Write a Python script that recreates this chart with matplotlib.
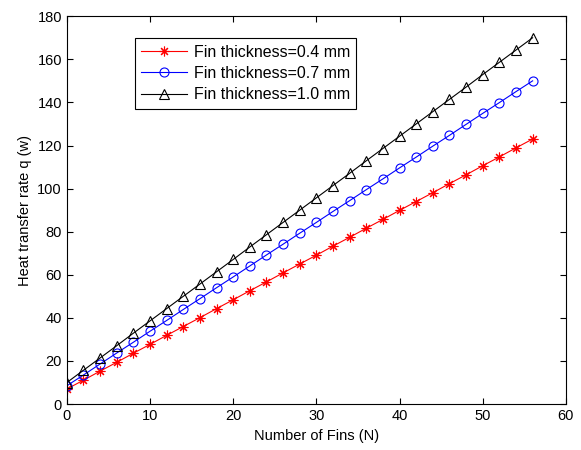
import matplotlib.pyplot as plt

plt.rcParams["font.family"] = ["Liberation Sans", "DejaVu Sans"]
plt.rcParams["font.size"] = 10.5

fins = list(range(0, 57, 2))

q_04 = [7.0, 11.1, 15.3, 19.4, 23.6, 27.7, 31.9, 36.0, 40.1, 44.3, 48.4, 52.6,
        56.7, 60.9, 65.0, 69.1, 73.3, 77.4, 81.6, 85.7, 89.9, 94.0, 98.1, 102.3,
        106.4, 110.6, 114.7, 118.9, 123.0]
q_07 = [8.5, 13.5, 18.6, 23.7, 28.7, 33.8, 38.8, 43.9, 48.9, 54.0, 59.0, 64.1,
        69.2, 74.2, 79.3, 84.3, 89.4, 94.4, 99.5, 104.5, 109.6, 114.6, 119.7,
        124.7, 129.8, 134.9, 139.9, 145.0, 150.0]
q_10 = [10.0, 15.7, 21.4, 27.1, 32.9, 38.6, 44.3, 50.0, 55.7, 61.4, 67.1, 72.9,
        78.6, 84.3, 90.0, 95.7, 101.4, 107.1, 112.9, 118.6, 124.3, 130.0, 135.7,
        141.4, 147.1, 152.9, 158.6, 164.3, 170.0]

fig = plt.figure(figsize=(5.81, 4.5), dpi=100)
ax = fig.add_axes([0.115, 0.102, 0.859, 0.862])

ax.plot(fins, q_04, color="red", lw=0.8, marker=(8, 2, 0), ms=7,
        mew=0.8, label="Fin thickness=0.4 mm")
ax.plot(fins, q_07, color="blue", lw=0.8, marker="o", ms=6.5, mfc="none",
        mew=0.8, label="Fin thickness=0.7 mm")
ax.plot(fins, q_10, color="black", lw=0.8, marker="^", ms=7.5, mfc="none",
        mew=0.8, label="Fin thickness=1.0 mm")

ax.set_xlim(0, 60)
ax.set_ylim(0, 180)
ax.set_xticks(range(0, 61, 10))
ax.set_yticks(range(0, 181, 20))
ax.tick_params(direction="in", top=True, right=True, length=4)
ax.set_xlabel("Number of Fins (N)")
ax.set_ylabel("Heat transfer rate q (w)")

leg = ax.legend(loc="upper left", bbox_to_anchor=(0.136, 0.943),
                fontsize=11.5, handlelength=2.9, handletextpad=0.4,
                fancybox=False, framealpha=1, edgecolor="black",
                borderpad=0.4, labelspacing=0.4, borderaxespad=0)
leg.get_frame().set_linewidth(0.8)

fig.savefig("out.png", dpi=100)
